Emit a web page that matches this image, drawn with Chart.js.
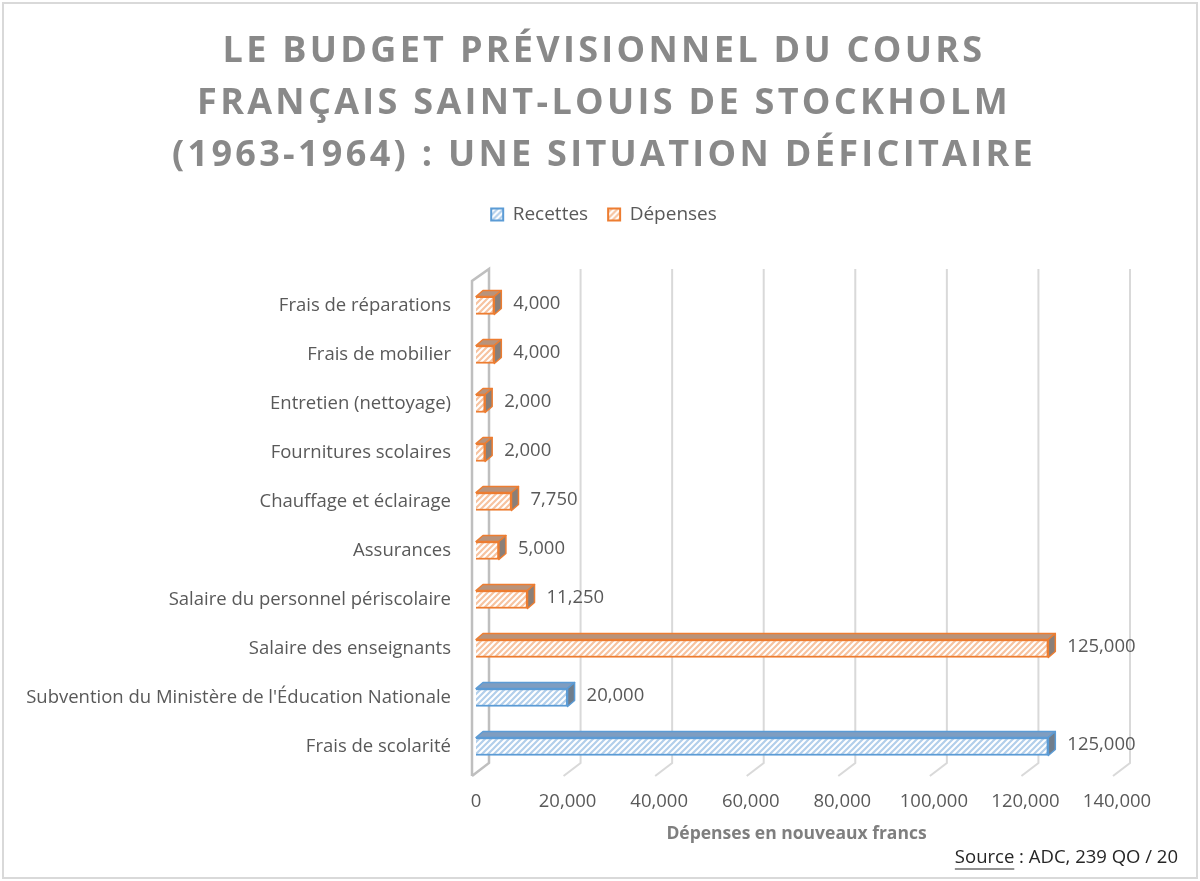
<!DOCTYPE html>
<html>
<head>
<meta charset="utf-8">
<script src="https://cdn.jsdelivr.net/npm/chart.js@4.4.1/dist/chart.umd.min.js"></script>
<style>
  body { margin: 0; background: #fff; }
  #wrap { width: 1200px; height: 881px; }
</style>
</head>
<body>
<div id="wrap"><canvas id="myChart"></canvas></div>
<script>
// donnees
const categories = [
  'Frais de réparations',
  'Frais de mobilier',
  'Entretien (nettoyage)',
  'Fournitures scolaires',
  'Chauffage et éclairage',
  'Assurances',
  'Salaire du personnel périscolaire',
  'Salaire des enseignants',
  "Subvention du Ministère de l'Éducation Nationale",
  'Frais de scolarité'
]
const recettes = [null, null, null, null, null, null, null, null, 20000, 125000]
const depenses = [4000, 4000, 2000, 2000, 7750, 5000, 11250, 125000, null, null]
const xTicks = [0, 20000, 40000, 60000, 80000, 100000, 120000, 140000]

const titre = ['LE BUDGET PRÉVISIONNEL DU COURS', 'FRANÇAIS SAINT-LOUIS DE STOCKHOLM', '(1963-1964) : UNE SITUATION DÉFICITAIRE']
const titreAxe = 'Dépenses en nouveaux francs'
const source = 'Source'
const sourceSuite = ' : ADC, 239 QO / 20'

const police = '"Open Sans", sans-serif'
const gris = '#595959'

function hachures(fond, trait) {
  const c = document.createElement('canvas')
  c.width = 6; c.height = 6
  const g = c.getContext('2d')
  g.fillStyle = fond
  g.fillRect(0, 0, 6, 6)
  g.strokeStyle = trait
  g.lineWidth = 2.2
  g.beginPath()
  g.moveTo(-2, 8); g.lineTo(8, -2)
  g.moveTo(-2, 2); g.lineTo(2, -2)
  g.moveTo(4, 8); g.lineTo(8, 4)
  g.stroke()
  return g.createPattern(c, 'repeat')
}

const couleurs = {
  Recettes: { bord: '#5b9bd5', fill: hachures('#ffffff', '#b2cfeb'), dessus: '#7f9dc0', cote: '#6f7d8c' },
  'Dépenses': { bord: '#ed7d31', fill: hachures('#ffffff', '#f7c3a0'), dessus: '#b8937b', cote: '#8a7f78' }
}

const D = { x: 7, y: -6 }

const fondEtCadre = {
  id: 'fondEtCadre',
  beforeDraw(chart) {
    const ctx = chart.ctx
    ctx.save()
    ctx.fillStyle = '#fff'
    ctx.fillRect(0, 0, chart.width, chart.height)
    ctx.strokeStyle = '#d9d9d9'
    ctx.lineWidth = 2
    ctx.strokeRect(3, 3, chart.width - 6, chart.height - 6)
    ctx.restore()
  }
}

const mur = {
  id: 'mur',
  beforeDatasetsDraw(chart) {
    const ctx = chart.ctx
    const a = chart.chartArea
    const xs = chart.scales.x
    ctx.save()
    ctx.lineWidth = 2
    ctx.strokeStyle = '#d9d9d9'
    xTicks.forEach(v => {
      if (v === 0) return
      const bx = xs.getPixelForValue(v) + 13
      ctx.beginPath()
      ctx.moveTo(bx, a.top - 12)
      ctx.lineTo(bx, a.bottom - 8)
      ctx.lineTo(bx - 17, a.bottom + 5)
      ctx.stroke()
    })
    // paroi gauche
    const f = a.left - 4, b = a.left + 13
    ctx.strokeStyle = '#bfbfbf'
    ctx.lineWidth = 2.5
    ctx.beginPath()
    ctx.moveTo(f, a.bottom + 5)
    ctx.lineTo(f, a.top)
    ctx.lineTo(b, a.top - 12)
    ctx.lineTo(b, a.bottom - 8)
    ctx.lineTo(f, a.bottom + 5)
    ctx.stroke()
    ctx.restore()
  }
}

const barres3d = {
  id: 'barres3d',
  afterDatasetsDraw(chart) {
    const ctx = chart.ctx
    ctx.save()
    chart.data.datasets.forEach((ds, i) => {
      const meta = chart.getDatasetMeta(i)
      const c = couleurs[ds.label]
      meta.data.forEach((el, j) => {
        if (ds.data[j] == null) return
        const p = el.getProps(['x', 'y', 'base', 'height'], true)
        const top = p.y - p.height / 2
        const bot = p.y + p.height / 2
        ctx.lineWidth = 1.5
        ctx.lineJoin = 'round'
        ctx.strokeStyle = c.bord
        ctx.fillStyle = c.dessus
        ctx.beginPath()
        ctx.moveTo(p.base, top)
        ctx.lineTo(p.x, top)
        ctx.lineTo(p.x + D.x, top + D.y)
        ctx.lineTo(p.base + D.x, top + D.y)
        ctx.closePath()
        ctx.fill(); ctx.stroke()
        ctx.fillStyle = c.cote
        ctx.beginPath()
        ctx.moveTo(p.x, top)
        ctx.lineTo(p.x + D.x, top + D.y)
        ctx.lineTo(p.x + D.x, bot + D.y)
        ctx.lineTo(p.x, bot)
        ctx.closePath()
        ctx.fill(); ctx.stroke()

        // etiquette de valeur
        ctx.fillStyle = gris
        ctx.font = '18.5px ' + police
        ctx.textAlign = 'left'
        ctx.textBaseline = 'middle'
        ctx.fillText(ds.data[j].toLocaleString('en-US'), p.x + D.x + 12, p.y - 2)
      })
    })
    ctx.restore()
  }
}

const sourceTexte = {
  id: 'sourceTexte',
  afterDraw(chart) {
    const ctx = chart.ctx
    ctx.save()
    ctx.font = '18.5px ' + police
    ctx.fillStyle = '#262626'
    ctx.textBaseline = 'middle'
    ctx.textAlign = 'left'
    const w1 = ctx.measureText(source).width
    const w2 = ctx.measureText(sourceSuite).width
    const x0 = 1178 - w1 - w2
    const y = 858
    ctx.fillText(source, x0, y)
    ctx.fillText(sourceSuite, x0 + w1, y)
    ctx.strokeStyle = '#262626'
    ctx.lineWidth = 1.2
    ctx.beginPath()
    ctx.moveTo(x0, y + 11)
    ctx.lineTo(x0 + w1, y + 11)
    ctx.stroke()
    ctx.restore()
  }
}

const config = {
  type: 'bar',
  data: {
    labels: categories,
    datasets: [
      { label: 'Recettes', data: recettes, backgroundColor: couleurs.Recettes.fill, borderColor: couleurs.Recettes.bord, borderWidth: 2, barThickness: 18 },
      { label: 'Dépenses', data: depenses, backgroundColor: couleurs['Dépenses'].fill, borderColor: couleurs['Dépenses'].bord, borderWidth: 2, barThickness: 18 }
    ]
  },
  options: {
    indexAxis: 'y',
    responsive: true,
    maintainAspectRatio: false,
    animation: false,
    devicePixelRatio: 1,
    layout: { padding: { left: 10, right: 83, top: 10, bottom: 36 } },
    scales: {
      x: {
        stacked: true,
        min: 0,
        max: 140000,
        afterBuildTicks(s) { s.ticks = xTicks.map(v => ({ value: v })) },
        afterFit(s) { s.height = 74 },
        grid: { display: false },
        border: { display: false },
        ticks: {
          color: gris,
          font: { family: police, size: 18.5 },
          padding: 12,
          callback: v => v.toLocaleString('en-US')
        },
        title: {
          display: true,
          text: titreAxe,
          color: '#7f7f7f',
          font: { family: police, size: 17.5, weight: 'bold' },
          padding: { top: 0, bottom: 0 }
        }
      },
      y: {
        stacked: true,
        afterFit(s) { s.width = 466 },
        grid: { display: false },
        border: { display: false },
        ticks: {
          color: gris,
          font: { family: police, size: 18.5 },
          padding: 17
        }
      }
    },
    plugins: {
      title: {
        display: true,
        text: titre,
        color: '#898989',
        font: { family: police, size: 36, weight: 'bold', lineHeight: 1.444 },
        padding: { top: 16, bottom: 3 }
      },
      legend: {
        display: true,
        labels: {
          color: gris,
          font: { family: police, size: 19 },
          boxWidth: 12,
          boxHeight: 12,
          padding: 20
        }
      },
      tooltip: { enabled: false }
    }
  },
  plugins: [fondEtCadre, mur, barres3d, sourceTexte]
}

const myChart = new Chart(document.getElementById('myChart'), config)

// titre et legende centres sur toute la largeur, espacement des lettres du titre
function centrer(box, espacement) {
  const dessin = box.draw.bind(box)
  box.draw = function (area) {
    const ctx = this.ctx
    ctx.save()
    ctx.translate(myChart.width / 2 - (this.left + this.right) / 2 + 4, 0)
    if (espacement) ctx.letterSpacing = espacement
    dessin(area)
    ctx.restore()
  }
}
centrer(myChart.titleBlock, '3.3px')
centrer(myChart.legend, null)
const lg = myChart.legend
const fitLegende = lg.fit.bind(lg)
lg.fit = function () {
  fitLegende()
  this.height += 47
}
myChart.update()
</script>
</body>
</html>
